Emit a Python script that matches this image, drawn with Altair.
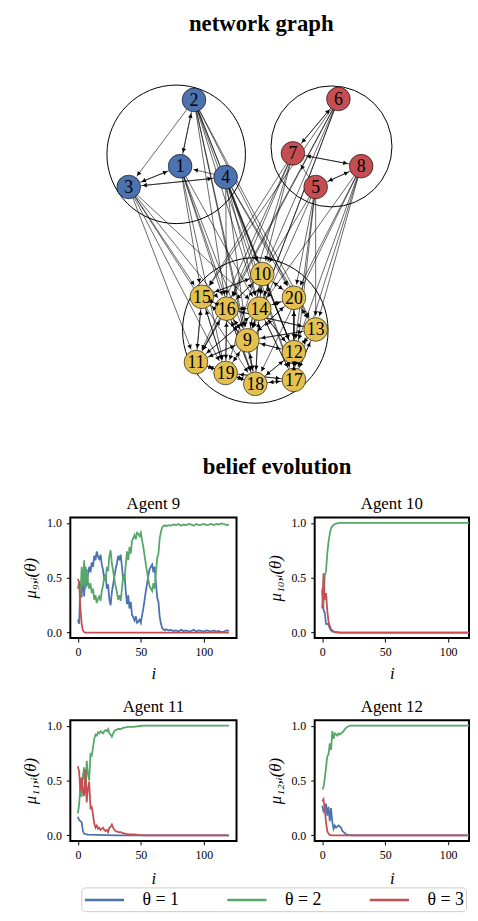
import math
import altair as alt
import pandas as pd

# ---------------- network data ----------------
NODE_IDS = [1, 2, 3, 4, 5, 6, 7, 8, 9, 10, 11, 12, 13, 14, 15, 16, 17, 18, 19, 20]
NODE_X = [180, 194, 128, 226, 317, 340, 294, 363, 248, 263, 196, 295, 317, 260, 202, 227, 295, 256, 226, 295]
NODE_Y = [166, 99, 187, 177, 187, 98, 153, 166, 342, 275, 364, 354, 331, 310, 298, 310, 382, 386, 375, 299]
NODE_GROUP = ["A"] * 4 + ["B"] * 4 + ["C"] * 12
GROUP_NAMES = ["A", "B", "C"]
GROUP_COLORS = ["#4C72B0", "#C44E52", "#E3C04F"]

CLUSTER_X = [176, 333, 256]
CLUSTER_Y = [154, 146, 332]
CLUSTER_R = [79, 69, 83]

DIRECTED_EDGES = [
    (2, 1), (1, 2), (2, 3), (3, 1), (1, 3), (4, 1), (3, 4), (4, 3),
    (6, 7), (7, 6), (7, 8), (8, 7), (8, 5), (5, 8), (5, 7),
    (2, 10), (2, 14), (2, 16), (2, 20), (2, 9), (2, 12), (2, 13), (2, 18), (2, 17),
    (1, 15), (1, 16), (1, 9), (1, 18), (1, 19), (1, 14),
    (3, 15), (3, 16), (3, 19), (3, 11), (3, 14), (3, 18),
    (4, 10), (4, 14), (4, 20), (4, 9), (4, 12), (4, 13), (4, 17), (4, 16),
    (6, 15), (6, 16), (6, 10), (6, 11), (6, 9), (6, 14),
    (7, 15), (7, 11), (7, 16), (7, 10), (7, 19),
    (5, 10), (5, 20), (5, 13), (5, 12), (5, 17), (5, 9),
    (8, 13), (8, 20), (8, 12), (8, 17), (8, 14), (8, 18),
]
MUTUAL_EDGES = [
    (10, 14), (10, 16), (10, 20), (10, 15), (10, 9), (15, 16), (15, 11), (15, 9),
    (16, 14), (16, 9), (16, 11), (16, 19), (14, 20), (14, 9), (14, 12), (14, 18),
    (20, 13), (20, 12), (20, 9), (13, 12), (13, 17), (13, 9), (9, 12), (9, 19),
    (9, 18), (9, 11), (12, 17), (12, 18), (11, 19), (11, 18), (19, 18), (18, 17),
    (19, 17), (16, 18), (14, 17), (15, 19), (20, 17), (10, 12), (14, 11), (16, 13),
]

# ---------------- belief data ----------------
THETA_LABELS = ["θ = 1", "θ = 2", "θ = 3"]
THETA_COLORS = ["#4C72B0", "#55A868", "#C44E52"]

A9_I = list(range(0, 71)) + list(range(72, 121, 2))
A9_G = [0.40, 0.46, 0.33, 0.60, 0.42, 0.66, 0.40, 0.58, 0.47, 0.40,
        0.45, 0.36, 0.40, 0.30, 0.34, 0.27, 0.31, 0.33, 0.29, 0.38,
        0.43, 0.52, 0.47, 0.60, 0.56, 0.70, 0.75, 0.63, 0.56, 0.49,
        0.42, 0.37, 0.30, 0.34, 0.29, 0.40, 0.52, 0.47, 0.62, 0.74,
        0.66, 0.78, 0.72, 0.84, 0.86, 0.89, 0.85, 0.91, 0.90, 0.88,
        0.91, 0.84, 0.78, 0.70, 0.62, 0.55, 0.48, 0.42, 0.40, 0.38,
        0.45, 0.40, 0.55, 0.68, 0.72, 0.86, 0.92, 0.96, 0.97, 0.98,
        0.97,
        0.98, 0.975, 0.985, 0.98, 0.99, 0.975, 0.985, 0.98, 0.99, 0.985,
        0.975, 0.99, 0.98, 0.985, 0.99, 0.98, 0.985, 0.99, 0.98, 0.99,
        0.985, 0.995, 0.99, 0.98, 0.985]
A9_B = [0.12, 0.08, 0.45, 0.32, 0.56, 0.33, 0.60, 0.42, 0.53, 0.60,
        0.55, 0.64, 0.60, 0.70, 0.66, 0.74, 0.69, 0.67, 0.71, 0.62,
        0.57, 0.48, 0.53, 0.40, 0.44, 0.30, 0.25, 0.37, 0.44, 0.51,
        0.58, 0.63, 0.70, 0.66, 0.71, 0.60, 0.48, 0.53, 0.38, 0.26,
        0.34, 0.22, 0.28, 0.16, 0.14, 0.11, 0.15, 0.09, 0.10, 0.12,
        0.09, 0.16, 0.22, 0.30, 0.38, 0.45, 0.52, 0.58, 0.60, 0.62,
        0.55, 0.60, 0.45, 0.32, 0.28, 0.14, 0.08, 0.04, 0.03, 0.02,
        0.03,
        0.02, 0.025, 0.015, 0.02, 0.01, 0.025, 0.015, 0.02, 0.01, 0.015,
        0.025, 0.01, 0.02, 0.015, 0.01, 0.02, 0.015, 0.01, 0.02, 0.01,
        0.015, 0.005, 0.01, 0.02, 0.015]
A9_R_I = [0, 1, 2, 3, 4, 5, 6, 120]
A9_R = [0.49, 0.46, 0.22, 0.08, 0.02, 0.005, 0.0, 0.0]

A10_I = [0, 1, 2, 3, 4, 5, 6, 7, 8, 9, 10, 12, 14, 16, 20, 30, 120]
A10_G = [0.38, 0.25, 0.52, 0.56, 0.72, 0.83, 0.90, 0.95, 0.97, 0.98, 0.99, 0.995, 1.0, 1.0, 1.0, 1.0, 1.0]
A10_B = [0.40, 0.21, 0.18, 0.08, 0.08, 0.07, 0.04, 0.02, 0.01, 0.01, 0.005, 0.005, 0.0, 0.0, 0.0, 0.0, 0.0]
A10_R = [0.22, 0.54, 0.30, 0.36, 0.20, 0.10, 0.06, 0.03, 0.02, 0.01, 0.005, 0.0, 0.0, 0.0, 0.0, 0.0, 0.0]

A11_I = list(range(0, 31)) + [32, 34, 36, 38, 40, 44, 48, 52, 60, 120]
A11_G = [0.20, 0.28, 0.45, 0.35, 0.55, 0.62, 0.38, 0.68, 0.56, 0.50,
         0.74, 0.73, 0.80, 0.88, 0.92, 0.91, 0.94, 0.93, 0.95, 0.94,
         0.93, 0.95, 0.96, 0.95, 0.97, 0.93, 0.92, 0.90, 0.93, 0.95,
         0.96, 0.97, 0.97, 0.98, 0.985, 0.99, 0.99, 0.995, 1.0, 1.0, 1.0]
A11_R = [0.63, 0.58, 0.40, 0.53, 0.40, 0.36, 0.60, 0.30, 0.43, 0.49,
         0.25, 0.26, 0.19, 0.11, 0.07, 0.09, 0.06, 0.07, 0.05, 0.06,
         0.07, 0.05, 0.04, 0.05, 0.03, 0.07, 0.08, 0.10, 0.07, 0.05,
         0.04, 0.03, 0.03, 0.02, 0.015, 0.01, 0.01, 0.005, 0.0, 0.0, 0.0]
A11_B_I = [0, 1, 2, 3, 4, 5, 8, 15, 30, 120]
A11_B = [0.17, 0.14, 0.13, 0.12, 0.04, 0.015, 0.008, 0.005, 0.0, 0.0]

A12_G_I = list(range(0, 27)) + [30, 120]
A12_G = [0.42, 0.44, 0.52, 0.62, 0.72, 0.74, 0.84, 0.78, 0.95, 0.88,
         0.93, 0.92, 0.91, 0.93, 0.92, 0.93, 0.94, 0.95, 0.97, 0.98,
         0.99, 0.995, 1.0, 1.0, 1.0, 1.0, 1.0, 1.0, 1.0]
A12_R_I = [0, 1, 2, 3, 4, 5, 6, 8, 120]
A12_R = [0.31, 0.33, 0.24, 0.12, 0.04, 0.015, 0.005, 0.0, 0.0]
A12_B_I = [0, 1, 2, 3, 4, 5, 6, 7, 8, 9, 10, 11, 12, 13, 14, 15, 16, 17, 18, 19, 20, 24, 120]
A12_B = [0.27, 0.22, 0.24, 0.29, 0.18, 0.26, 0.13, 0.25, 0.12, 0.06,
         0.09, 0.07, 0.08, 0.09, 0.08, 0.07, 0.04, 0.03, 0.02, 0.01,
         0.005, 0.0, 0.0]

SERIES = [
    (9, 0, A9_I, A9_B), (9, 1, A9_I, A9_G), (9, 2, A9_R_I, A9_R),
    (10, 0, A10_I, A10_B), (10, 1, A10_I, A10_G), (10, 2, A10_I, A10_R),
    (11, 0, A11_B_I, A11_B), (11, 1, A11_I, A11_G), (11, 2, A11_I, A11_R),
    (12, 0, A12_B_I, A12_B), (12, 1, A12_G_I, A12_G), (12, 2, A12_R_I, A12_R),
]

SERIF = "Liberation Serif"

# ---------------- tables ----------------
nodes = pd.DataFrame({"id": NODE_IDS, "x": NODE_X, "y": NODE_Y, "group": NODE_GROUP})
pos = {n: (x, y) for n, x, y in zip(NODE_IDS, NODE_X, NODE_Y)}
NODE_R = 13.5
ARROW_HALF = 3.5

all_edges = list(DIRECTED_EDGES)
for a, b in MUTUAL_EDGES:
    all_edges.append((a, b))
    all_edges.append((b, a))

erows, arows = [], []
for s, t in all_edges:
    sx, sy = pos[s]
    tx, ty = pos[t]
    dx, dy = tx - sx, ty - sy
    L = math.hypot(dx, dy)
    ux, uy = dx / L, dy / L
    erows.append({"x": sx, "y": sy, "x2": tx - ux * NODE_R, "y2": ty - uy * NODE_R})
    ang = math.degrees(math.atan2(dx, -dy)) % 360
    arows.append({"x": tx - ux * (NODE_R + ARROW_HALF), "y": ty - uy * (NODE_R + ARROW_HALF), "angle": ang})
edges = pd.DataFrame(erows)
arrows = pd.DataFrame(arows)
clusters = pd.DataFrame({"x": CLUSTER_X, "y": CLUSTER_Y,
                         "size": [math.pi * r * r for r in CLUSTER_R]})

NET_W, NET_H = 400, 410
XDOM = [69, 69 + NET_W]
YDOM = [40, 40 + NET_H]
xenc = alt.X("x:Q", scale=alt.Scale(domain=XDOM, nice=False, zero=False), axis=None)
yenc = alt.Y("y:Q", scale=alt.Scale(domain=YDOM, reverse=True, nice=False, zero=False), axis=None)

cl_layer = alt.Chart(clusters).mark_point(shape="circle", filled=False, stroke="black",
                                          strokeWidth=1, opacity=1).encode(
    x=xenc, y=yenc, size=alt.Size("size:Q", scale=None))
edge_layer = alt.Chart(edges).mark_rule(color="black", strokeWidth=0.6).encode(
    x=xenc, y=yenc, x2="x2:Q", y2="y2:Q")
node_layer = alt.Chart(nodes).mark_point(shape="circle", filled=True, stroke="black",
                                         strokeWidth=0.6, opacity=1).encode(
    x=xenc, y=yenc,
    fill=alt.Fill("group:N", scale=alt.Scale(domain=GROUP_NAMES, range=GROUP_COLORS), legend=None),
    size=alt.value(math.pi * NODE_R * NODE_R))
label_layer = alt.Chart(nodes).mark_text(font=SERIF, fontSize=18, color="black", dy=1).encode(
    x=xenc, y=yenc, text="id:N")
arrow_layer = alt.Chart(arrows).mark_point(shape="triangle", filled=True, color="black",
                                           opacity=1, size=22).encode(
    x=xenc, y=yenc, angle=alt.Angle("angle:Q", scale=None))

net = alt.layer(cl_layer, edge_layer, node_layer, label_layer, arrow_layer).properties(
    width=NET_W, height=NET_H,
    title=alt.Title("network graph", font=SERIF, fontSize=23, fontWeight="bold",
                    color="black", anchor="middle", dx=-7, offset=6),
    view=alt.ViewBackground(stroke="transparent"),
)

lrows = []
for agent, th, xs, vs in SERIES:
    for i, v in zip(xs, vs):
        lrows.append({"agent": agent, "theta": THETA_LABELS[th], "order": th, "i": i, "value": v})
lines = pd.DataFrame(lrows).sort_values(["order", "i"])

YTITLES = {9: "μ₉,ᵢ(θ)", 10: "μ₁₀,ᵢ(θ)", 11: "μ₁₁,ᵢ(θ)", 12: "μ₁₂,ᵢ(θ)"}
PX_PER_I = 168 / 132.0


def panel(agent, width, xtitle_pad):
    xmax = -6 + width / PX_PER_I
    return alt.Chart(lines[lines.agent == agent]).mark_line(strokeWidth=1.8, clip=True).encode(
        x=alt.X("i:Q", scale=alt.Scale(domain=[-6, xmax], nice=False, zero=False),
                axis=alt.Axis(values=[0, 50, 100], title="i", titleFontStyle="italic",
                              titlePadding=xtitle_pad)),
        y=alt.Y("value:Q", scale=alt.Scale(domain=[-0.05, 1.05], nice=False, zero=False),
                axis=alt.Axis(values=[0, 0.5, 1.0], format=".1f", title=YTITLES[agent],
                              titleFontStyle="italic", titlePadding=7)),
        color=alt.Color("theta:N", scale=alt.Scale(domain=THETA_LABELS, range=THETA_COLORS),
                        legend=alt.Legend(title=None)),
        order=alt.Order("order:Q"),
    ).properties(
        width=width, height=122,
        title=alt.Title(f"Agent {agent}", font=SERIF, fontSize=17, fontWeight="normal",
                        color="black", offset=4),
        view=alt.ViewBackground(stroke="black", strokeWidth=2),
    )


row1 = alt.hconcat(panel(9, 168, 8), panel(10, 156, 8), spacing=28)
row2 = alt.hconcat(panel(11, 168, 10), panel(12, 156, 10), spacing=28)
lower = alt.vconcat(row1, row2, spacing=14,
                    title=alt.Title("belief evolution", font=SERIF, fontSize=23,
                                    fontWeight="bold", color="black", anchor="middle",
                                    dx=32, offset=15))

chart = alt.vconcat(net, lower, spacing=8).resolve_scale(color="shared").properties(
    padding={"left": 13, "top": -1, "right": 0, "bottom": 0}
).configure_axis(
    labelFont=SERIF, labelFontSize=12, labelColor="black", tickColor="black",
    tickSize=4, tickWidth=1, domain=False, grid=False, titleFont=SERIF,
    titleFontSize=17, titleFontWeight="normal", titleColor="black", labelPadding=5,
).configure_legend(
    orient="none", legendX=11, legendY=855, direction="horizontal", columns=3,
    symbolType="M-2.2,0L2.2,0", symbolSize=324, symbolOffset=11, symbolStrokeWidth=2.5,
    labelFont=SERIF, labelFontSize=18, labelColor="black", strokeColor="#cccccc",
    cornerRadius=4, padding=2, columnPadding=43, labelOffset=28, fillColor="white",
).configure_view(stroke="black")

chart.save("out.html", embed_options={"renderer": "svg", "actions": False})
